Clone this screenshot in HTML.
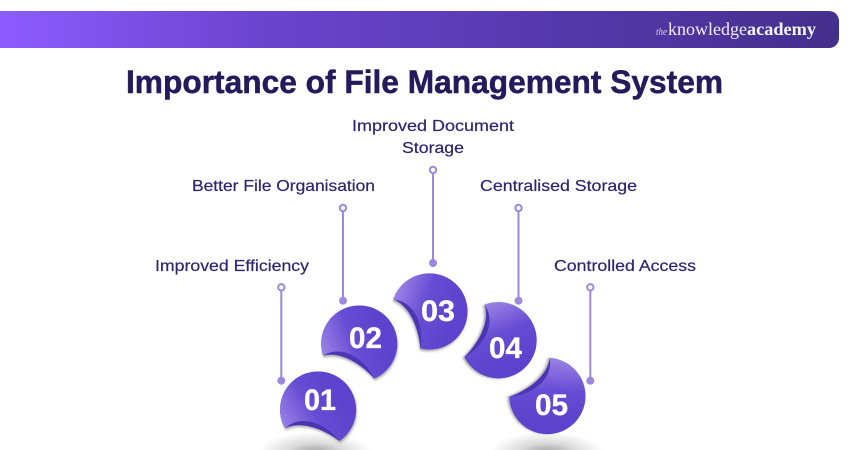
<!DOCTYPE html>
<html><head><meta charset="utf-8"><style>html,body{margin:0;padding:0;background:#fff;width:850px;height:450px;overflow:hidden}svg{display:block}</style></head>
<body>
<svg width="850" height="450" viewBox="0 0 850 450" xmlns="http://www.w3.org/2000/svg" font-family="'Liberation Sans',sans-serif">
<defs>
<linearGradient id="hd" x1="0" x2="1" y1="0" y2="0"><stop offset="0" stop-color="#8c5cff"/><stop offset=".3" stop-color="#6c45cf"/><stop offset=".7" stop-color="#5238a8"/><stop offset="1" stop-color="#442f8c"/></linearGradient>
<linearGradient id="g" gradientUnits="userSpaceOnUse" x1="-34" y1="19" x2="22" y2="-14"><stop offset="0" stop-color="#9a82e6"/><stop offset=".5" stop-color="#674dd4"/><stop offset="1" stop-color="#5c42cc"/></linearGradient>
<radialGradient id="sh1" gradientUnits="userSpaceOnUse" cx="0" cy="0" r="1" gradientTransform="translate(315 453) scale(57 21)"><stop offset="0" stop-color="#a0a0a0"/><stop offset=".5" stop-color="#dcdcdc"/><stop offset="1" stop-color="#fff"/></radialGradient>
<radialGradient id="sh2" gradientUnits="userSpaceOnUse" cx="0" cy="0" r="1" gradientTransform="translate(547 453) scale(57 21)"><stop offset="0" stop-color="#a0a0a0"/><stop offset=".5" stop-color="#dcdcdc"/><stop offset="1" stop-color="#fff"/></radialGradient>
<filter id="ds" x="-30%" y="-30%" width="160%" height="160%"><feDropShadow dx="1" dy="2" stdDeviation="1" flood-color="#666" flood-opacity=".5"/></filter>
<g id="disc">
<path d="M-33.800 18.800A38 38 0 1 1 20.500 31.500C6.200 20.500 -16.800 10.500 -33.800 18.800Z" fill="#4c35b4" filter="url(#ds)"/>
<path d="M-33.800 18.800A38 38 0 1 1 20.500 31.500C6.200 12.500 -18.800 4.500 -33.800 18.800Z" fill="url(#g)"/>
</g>
</defs>
<path d="M0 11H829a10 10 0 0 1 10 10V38a10 10 0 0 1-10 10H0Z" fill="url(#hd)"/>
<text x="656" y="35" font-family="'Liberation Serif',serif" font-style="italic" font-size="11" fill="#d9d2ee" textLength="11" lengthAdjust="spacingAndGlyphs">the</text>
<text x="668" y="35" font-family="'Liberation Serif',serif" font-size="17.5" fill="#f0edf8" textLength="79" lengthAdjust="spacingAndGlyphs">knowledge</text>
<text x="747" y="35" font-family="'Liberation Serif',serif" font-weight="bold" font-size="17.5" fill="#f5f3fa" textLength="69" lengthAdjust="spacingAndGlyphs">academy</text>
<text x="126" y="93" font-weight="bold" font-size="32" fill="#241a5c" stroke="#241a5c" stroke-width=".5" textLength="597" lengthAdjust="spacingAndGlyphs">Importance of File Management System</text>

<g font-size="16" fill="#30246f" stroke="#30246f" stroke-width=".2">
<text x="155" y="271" textLength="154" lengthAdjust="spacingAndGlyphs">Improved Efficiency</text>
<text x="192" y="191" textLength="183" lengthAdjust="spacingAndGlyphs">Better File Organisation</text>
<text x="352" y="131" textLength="162" lengthAdjust="spacingAndGlyphs">Improved Document</text>
<text x="402" y="153" textLength="62" lengthAdjust="spacingAndGlyphs">Storage</text>
<text x="480" y="191" textLength="157" lengthAdjust="spacingAndGlyphs">Centralised Storage</text>
<text x="554" y="271" textLength="142" lengthAdjust="spacingAndGlyphs">Controlled Access</text>
</g>

<rect x="258" y="432" width="114" height="18" fill="url(#sh1)"/>
<rect x="490" y="432" width="114" height="18" fill="url(#sh2)"/>

<g stroke="#9d88e0" stroke-width="2" fill="#fff">
<path d="M281.300 291V380M343 212V300M433 174V263M518.500 212V300M590.300 291V380" fill="none"/>
<circle cx="281.300" cy="287.300" r="3.200"/><circle cx="343" cy="208" r="3.200"/><circle cx="433" cy="170" r="3.200"/><circle cx="518.500" cy="208" r="3.200"/><circle cx="590.300" cy="287.300" r="3.200"/>
</g>
<g fill="#9d88e0">
<circle cx="281.300" cy="380.700" r="4"/><circle cx="343" cy="300.700" r="4"/><circle cx="433" cy="263" r="4"/><circle cx="518.500" cy="300.700" r="4"/><circle cx="590.300" cy="380.700" r="4"/>
</g>

<use href="#disc" transform="translate(318.800 409.500)"/>
<use href="#disc" transform="translate(360 343.700) rotate(11)"/>
<use href="#disc" transform="translate(430 312) rotate(48)"/>
<use href="#disc" transform="translate(498.500 341) rotate(98)"/>
<use href="#disc" transform="translate(547 396.700) rotate(123)"/>

<g font-weight="bold" font-size="30" fill="#fff" stroke="#fff" stroke-width=".3">
<text x="304" y="410" textLength="32" lengthAdjust="spacingAndGlyphs">01</text>
<text x="349" y="348" textLength="33" lengthAdjust="spacingAndGlyphs">02</text>
<text x="421" y="321" textLength="34" lengthAdjust="spacingAndGlyphs">03</text>
<text x="489" y="358" textLength="33" lengthAdjust="spacingAndGlyphs">04</text>
<text x="535" y="415" textLength="33" lengthAdjust="spacingAndGlyphs">05</text>
</g>
</svg>
</body></html>
